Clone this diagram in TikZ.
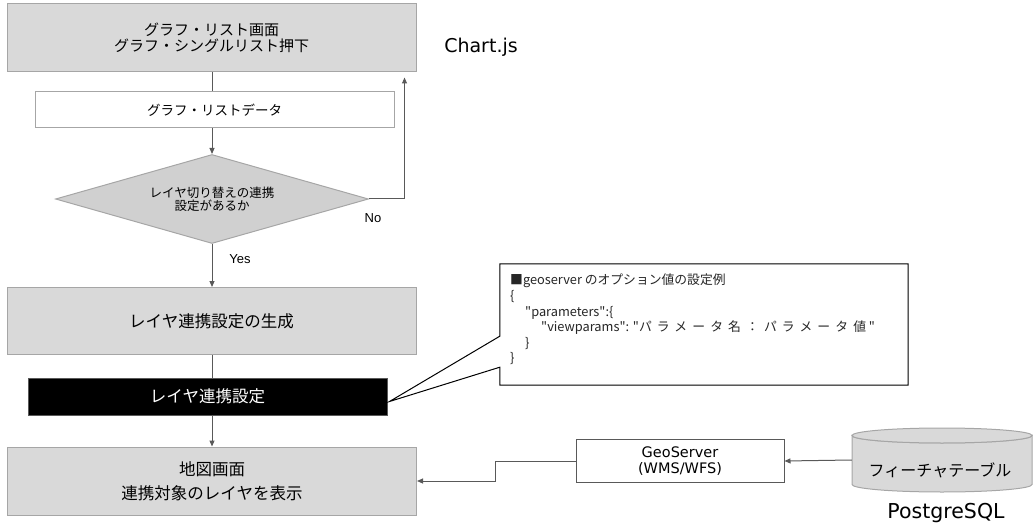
\documentclass[tikz,border=0pt]{standalone}
\usepackage{fontspec}
\setmainfont{Noto Sans CJK JP}
\newfontfamily\verdana{DejaVu Sans}
\newfontfamily\arial{Liberation Sans}
\newfontfamily\codefont[Ligatures=TeXOff]{Noto Sans CJK JP}
\newfontfamily\jpwide[Ligatures=TeXOff,LetterSpace=40]{Noto Sans CJK JP}
\usetikzlibrary{shapes.geometric,arrows.meta}

\definecolor{boxfill}{HTML}{D9D9D9}
\definecolor{boxline}{HTML}{A6A6A6}
\definecolor{linegray}{HTML}{595959}
\definecolor{diafill}{HTML}{D0D0D0}

\newcommand{\fs}[1]{\fontsize{#1}{1.2\dimexpr#1pt\relax}\selectfont}

\begin{document}
\begin{tikzpicture}[x=1pt,y=1pt,yscale=-1,xscale=1,
  graybox/.style={draw=boxline,fill=boxfill,line width=1pt,minimum width=409pt,minimum height=68pt,inner sep=0pt,align=center},
  whitebox/.style={draw=boxline,fill=white,line width=1pt,inner sep=0pt,align=center},
  blackbox/.style={draw=linegray,fill=black,text=white,line width=1pt,minimum width=359pt,minimum height=37pt,inner sep=0pt},
  decision/.style={diamond,aspect=3.5,draw=boxline,fill=diafill,line width=1pt,minimum width=313pt,minimum height=89pt,inner sep=0pt,align=center},
  line/.style={draw=linegray,line width=1pt},
  arrow/.style={line,-{Triangle[length=6pt,width=5pt]}}]
\useasboundingbox (0,0) rectangle (1035,529);

% Flow boxes
\node[graybox,font=\fs{15}] (screen) at (211.5,38) {グラフ・リスト画面\\[-2pt]グラフ・シングルリスト押下};
\node[whitebox,minimum width=359pt,minimum height=36pt,font=\fs{13.5}] (data) at (214.5,110) {グラフ・リストデータ};
\node[decision,font=\fs{12.5}] (check) at (212,199) {レイヤ切り替えの連携\\[-2pt]設定があるか};
\node[graybox,minimum height=67pt,font=\fs{16.5}] (generate) at (211.5,321) {レイヤ連携設定の生成};
\node[blackbox,font=\fs{16.5}] (setting) at (207.5,396.5) {レイヤ連携設定};
\node[graybox,font=\fs{16.5}] (map) at (212,481) {\raisebox{-4pt}{\shortstack{地図画面\\[6pt]連携対象のレイヤを表示}}};

% Server side
\node[whitebox,draw=linegray,minimum width=208pt,minimum height=43pt,font=\verdana\fs{14.5}] (geo) at (680,461) {\raisebox{-3pt}{\shortstack{GeoServer\\[2pt](WMS/WFS)}}};
\node[minimum width=180pt,minimum height=64pt,inner sep=0pt,font=\fs{16}] (db) at (942,460) {};
\draw[draw=boxline,fill=boxfill,line width=1pt] (852,435.5) -- (852,484.5) arc[start angle=180,end angle=0,x radius=90,y radius=7.5] -- (1032,435.5) arc[start angle=0,end angle=180,x radius=90,y radius=7.5] -- cycle;
\draw[draw=boxline,fill=boxfill,line width=1pt] (942,435.5) ellipse[x radius=90,y radius=7.5];
\node[font=\fs{16},inner sep=0pt] (table) at (940,470) {フィーチャテーブル};

% Text labels
\node[font=\verdana\fs{19},inner sep=0pt] (chartjs) at (481,47) {Chart.js};
\node[font=\verdana\fs{20.5},inner sep=0pt] (postgres) at (946,513) {PostgreSQL};
\node[font=\arial\fs{13},inner sep=0pt] (no) at (373,218) {No};
\node[font=\arial\fs{13},inner sep=0pt] (yes) at (240,259) {Yes};

% Callout
\node[fill=white,minimum width=408pt,minimum height=121pt,inner sep=0pt] (callout) at (704,324.5) {};
\coordinate (tip) at ([xshift=2pt,yshift=5pt]setting.east);
\draw[line width=1pt,fill=white] ([yshift=-49pt]callout.south west) -- (callout.north west) -- (callout.north east) -- (callout.south east) -- (callout.south west) -- ([yshift=-18pt]callout.south west) -- (tip) -- cycle;
\node[anchor=north west,align=left,inner sep=0pt,text=black!85,font=\codefont\fontsize{12.8}{15.6}\selectfont] (example) at (510,274) {■geoserver のオプション値の設定例\\
\{\\
\hspace*{15pt}"parameters":\{\\
\hspace*{31pt}"viewparams": "{\jpwide パラメータ名：パラメータ値} "\\
\hspace*{15pt}\}\\
\}};

% Connectors
\draw[line] (check.north |- screen.south) -- (check.north |- data.north);
\draw[arrow] (check.north |- data.south) -- (check.north);
\draw[arrow,shorten >=5pt] (check.east) -| ([xshift=-12pt]screen.south east);
\draw[arrow] (check.south) -- (check.south |- generate.north);
\draw[line] (check.south |- generate.south) -- (check.south |- setting.north);
\draw[arrow] (check.south |- setting.south) -- (check.south |- map.north);
\draw[arrow] (geo.west) -- ++(-80,0) |- (map.east);
\draw[arrow] (db.west) -- (geo.east);
\end{tikzpicture}
\end{document}
